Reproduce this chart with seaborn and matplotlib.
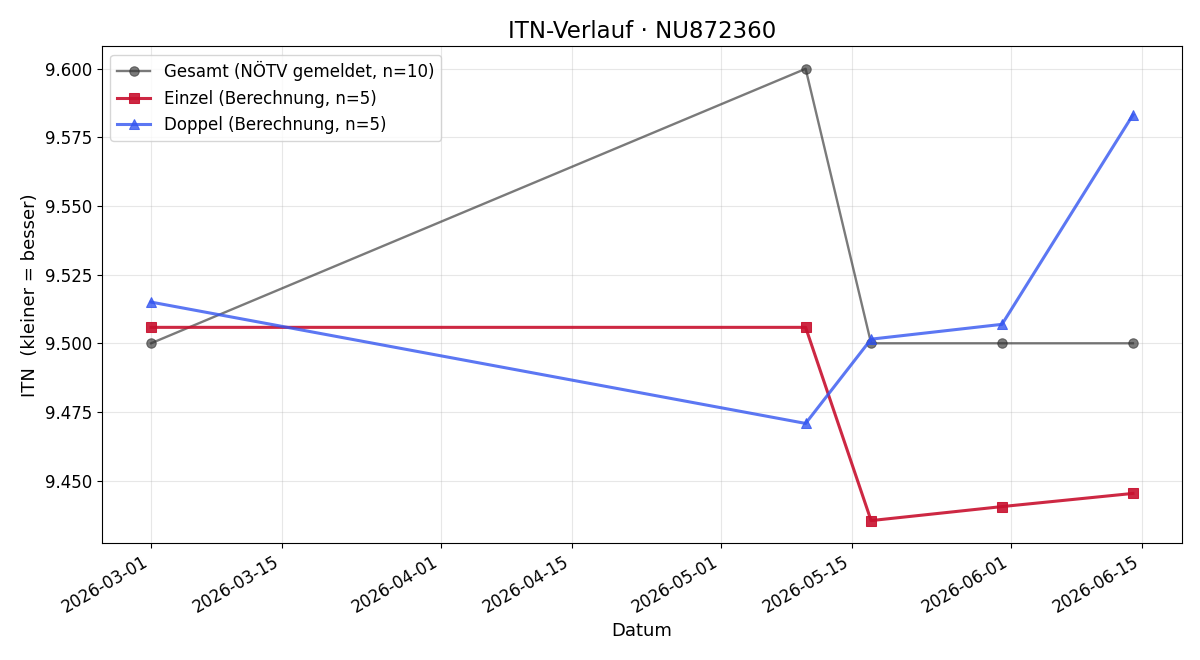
import pandas as pd
import matplotlib
matplotlib.use("Agg")
import matplotlib.pyplot as plt
import matplotlib.dates as mdates
import seaborn as sns

# Daten
datum_gesamt = ["2026-03-01", "2026-05-10", "2026-05-17", "2026-05-31", "2026-06-14"]
itn_gesamt = [9.500, 9.600, 9.500, 9.500, 9.500]

datum_einzel = ["2026-03-01", "2026-05-10", "2026-05-17", "2026-05-31", "2026-06-14"]
itn_einzel = [9.5058, 9.5058, 9.4354, 9.4405, 9.4453]

datum_doppel = ["2026-03-01", "2026-05-10", "2026-05-17", "2026-05-31", "2026-06-14"]
itn_doppel = [9.5150, 9.4708, 9.5015, 9.5069, 9.5832]

# matplotlib-Standardstil, nicht der seaborn-Stil
sns.reset_orig()
plt.rcParams['font.family'] = ['DejaVu Sans']

fig, ax = plt.subplots(figsize=(12, 6.6), dpi=100)

df_g = pd.DataFrame({"datum": pd.to_datetime(datum_gesamt), "itn": itn_gesamt})
df_e = pd.DataFrame({"datum": pd.to_datetime(datum_einzel), "itn": itn_einzel})
df_d = pd.DataFrame({"datum": pd.to_datetime(datum_doppel), "itn": itn_doppel})

sns.lineplot(data=df_g, x="datum", y="itn", ax=ax, color="#333333", alpha=0.65,
             linewidth=1.7, marker="o", markersize=6.8, markeredgecolor="#333333",
             label="Gesamt (NÖTV gemeldet, n=10)")
sns.lineplot(data=df_e, x="datum", y="itn", ax=ax, color="#c8102e", alpha=0.9,
             linewidth=2.2, marker="s", markersize=7, markeredgecolor="#c8102e",
             label="Einzel (Berechnung, n=5)")
sns.lineplot(data=df_d, x="datum", y="itn", ax=ax, color="#3355f0", alpha=0.8,
             linewidth=2.2, marker="^", markersize=7.5, markeredgecolor="#3355f0",
             label="Doppel (Berechnung, n=5)")

ax.set_title("ITN-Verlauf · NU872360", fontsize=16.5)
ax.set_xlabel("Datum", fontsize=13)
ax.set_ylabel("ITN  (kleiner = besser)", fontsize=13)
ax.tick_params(labelsize=12)
ax.yaxis.set_major_formatter(matplotlib.ticker.FormatStrFormatter("%.3f"))
ax.xaxis.set_major_locator(mdates.DayLocator(bymonthday=[1, 15]))
ax.xaxis.set_major_formatter(mdates.DateFormatter("%Y-%m-%d"))
ax.grid(True, alpha=0.3)
ax.legend(loc="upper left", fontsize=12)
fig.autofmt_xdate()

fig.subplots_adjust(left=0.085, right=0.985, top=0.930, bottom=0.177)
plt.savefig("out.png")
